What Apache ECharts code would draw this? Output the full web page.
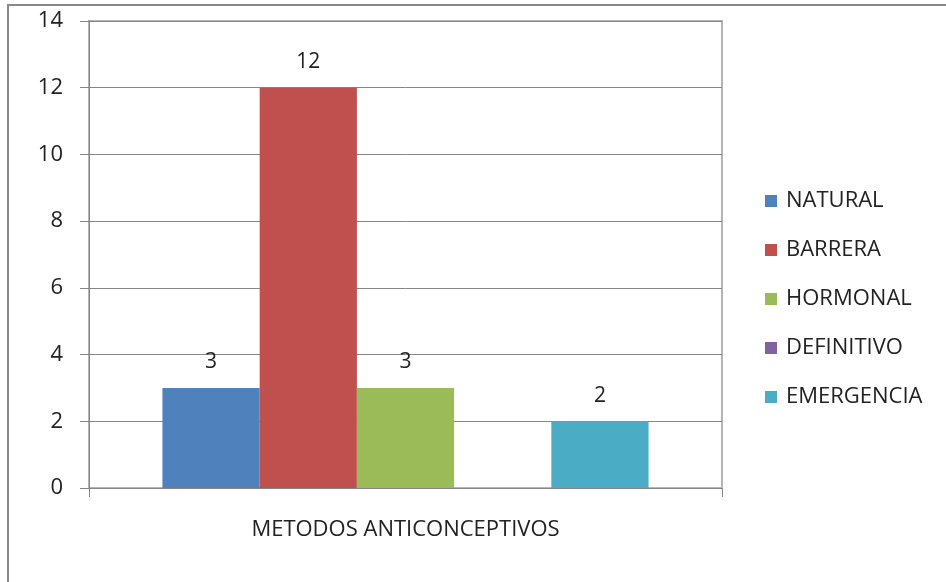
<!DOCTYPE html>
<html>
<head>
<meta charset="utf-8">
<script src="https://cdn.jsdelivr.net/npm/echarts@6/dist/echarts.min.js"></script>
<style>
  html, body { margin: 0; padding: 0; background: #fff; }
  #chart { width: 946px; height: 582px; }
</style>
</head>
<body>
<div id="chart"></div>
<script>
// datos del grafico
const categorias = ['METODOS ANTICONCEPTIVOS'];
const metodos = ['NATURAL', 'BARRERA', 'HORMONAL', 'DEFINITIVO', 'EMERGENCIA'];
const valores = [3, 12, 3, 0, 2];
const colores = ['#4F81BD', '#C0504D', '#9BBB59', '#8064A2', '#4BACC6'];
const ticksY = { min: 0, max: 14, interval: 2 };

const fuente = 'Open Sans';
const chart = echarts.init(document.getElementById('chart'));

const series = metodos.map((nombre, i) => ({
  name: nombre,
  type: 'bar',
  data: [valores[i]],
  barGap: '0%',
  barCategoryGap: '23.2%',
  itemStyle: { color: colores[i] },
  label: {
    show: valores[i] !== 0,
    position: 'top',
    distance: 15,
    color: '#222',
    fontSize: 21,
    fontFamily: fuente
  }
}));

chart.setOption({
  animation: false,
  textStyle: { fontFamily: fuente },
  graphic: [{
    type: 'rect',
    shape: { x: 8, y: 5, width: 1200, height: 1200 },
    style: { fill: 'none', stroke: '#888', lineWidth: 2 },
    z: 100
  }],
  grid: {
    left: 89, right: 224, top: 21, bottom: 94,
    show: true, borderColor: '#b5b5b5', borderWidth: 2
  },
  legend: {
    orient: 'vertical',
    left: 765,
    top: 190,
    padding: 0,
    itemWidth: 12,
    itemHeight: 12,
    itemGap: 27,
    icon: 'rect',
    textStyle: { fontSize: 22, color: '#222', fontFamily: fuente, padding: [0, 0, 0, 4] },
    data: metodos
  },
  xAxis: {
    type: 'category',
    data: categorias,
    axisLine: { lineStyle: { color: '#868686', width: 1 } },
    axisTick: { show: true, length: 9, lineStyle: { color: '#868686' } },
    axisLabel: { color: '#222', fontSize: 22, margin: 31, fontFamily: fuente }
  },
  yAxis: {
    type: 'value',
    min: ticksY.min,
    max: ticksY.max,
    interval: ticksY.interval,
    axisLine: { show: true, lineStyle: { color: '#868686', width: 1 } },
    axisTick: { show: true, length: 9, lineStyle: { color: '#868686' } },
    axisLabel: { color: '#222', fontSize: 22, margin: 26, fontFamily: fuente },
    splitLine: { lineStyle: { color: '#868686', width: 1 } }
  },
  series: series
});
</script>
</body>
</html>
